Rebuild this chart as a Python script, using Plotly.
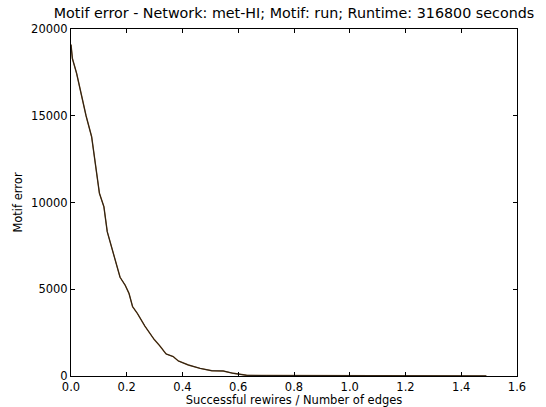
import plotly.graph_objects as go

# Successful rewires / number of edges
x_ratio = [0.000, 0.005, 0.020, 0.035, 0.054, 0.074, 0.086, 0.102, 0.110, 0.118,
           0.130, 0.146, 0.161, 0.176, 0.194, 0.208, 0.221, 0.238, 0.265, 0.298,
           0.319, 0.341, 0.367, 0.385, 0.421, 0.463, 0.505, 0.546, 0.582, 0.606,
           0.630, 0.700, 0.800, 0.900, 1.000, 1.100, 1.200, 1.300, 1.400, 1.490]
# Motif error
motif_error = [19100, 18300, 17450, 16300, 15000, 13790, 12260, 10530, 10140, 9760,
               8320, 7450, 6490, 5690, 5245, 4765, 3995, 3610, 2880, 2115,
               1730, 1270, 1115, 865, 635, 440, 305, 290, 155, 95,
               40, 25, 18, 14, 12, 10, 9, 8, 7, 6]

x_ticks = [0.0, 0.2, 0.4, 0.6, 0.8, 1.0, 1.2, 1.4, 1.6]
y_ticks = [0, 5000, 10000, 15000, 20000]

fig = go.Figure()
fig.add_trace(go.Scatter(x=x_ratio, y=motif_error, mode="lines",
                         line=dict(color="#7a5020", width=1.4), hoverinfo="skip"))
fig.add_trace(go.Scatter(x=x_ratio, y=motif_error, mode="lines",
                         line=dict(color="#111111", width=0.8)))

font = "DejaVu Sans, sans-serif"
axis_common = dict(showgrid=False, zeroline=False, showline=True, linecolor="black",
                   linewidth=1, mirror="allticks", ticks="inside", ticklen=4,
                   tickcolor="black", automargin=False,
                   tickfont=dict(family=font, size=11.5, color="black"))

fig.update_layout(
    width=546, height=407,
    margin=dict(l=71, r=29, t=29, b=31),
    paper_bgcolor="white", plot_bgcolor="white",
    showlegend=False,
    font=dict(family=font, color="black"),
    title=dict(text="Motif error - Network: met-HI; Motif: run; Runtime: 316800 seconds",
               x=0.5, xref="paper", xanchor="center", y=0.967, yref="container",
               yanchor="middle",
               font=dict(family=font, size=14.3, color="black")),
    xaxis=dict(range=[0, 1.6], tickvals=x_ticks, tickformat=".1f",
               title=dict(text="Successful rewires / Number of edges", standoff=0,
                          font=dict(family=font, size=11.5)),
               **axis_common),
    yaxis=dict(range=[0, 20000], tickvals=y_ticks, tickformat="d",
               title=dict(text="Motif error", standoff=6,
                          font=dict(family=font, size=11.5)),
               **axis_common),
)

fig.write_html("out.html")
